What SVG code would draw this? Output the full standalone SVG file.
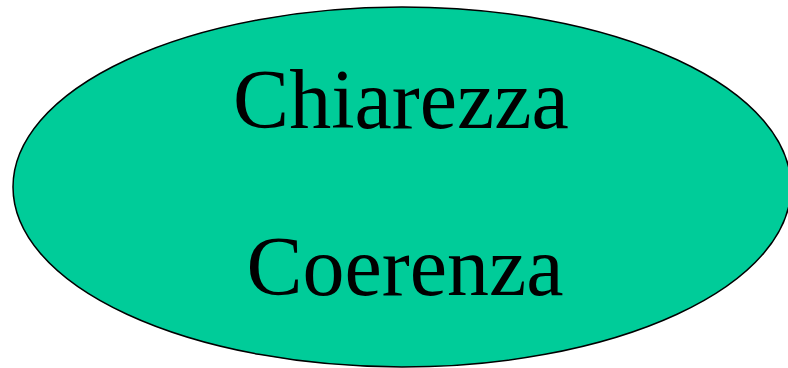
<svg xmlns="http://www.w3.org/2000/svg" width="788" height="368" viewBox="0 0 788 368">
<style>
.lbl{font-family:"Liberation Serif","Times New Roman",serif;font-size:84px;fill:#000;text-anchor:middle}
</style>
<rect width="788" height="368" fill="#fff"/>
<g id="node-ellipse">
<ellipse cx="402" cy="187" rx="389" ry="180" fill="#00CC99" stroke="#000" stroke-width="1.5"/>
<text class="lbl" x="401" y="128">Chiarezza</text>
<text class="lbl" x="405" y="295">Coerenza</text>
</g>
<g id="connectors"></g>
</svg>
